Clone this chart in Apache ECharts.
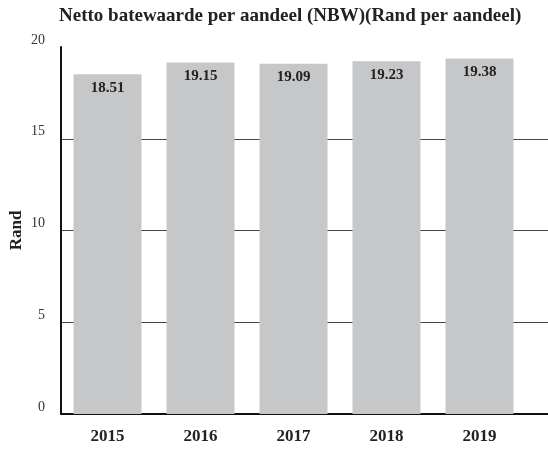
<!DOCTYPE html>
<html>
<head>
<meta charset="utf-8">
<script src="https://cdn.jsdelivr.net/npm/echarts@6/dist/echarts.min.js"></script>
<style>
  html, body { margin: 0; padding: 0; background: #fff; }
  #main { width: 548px; height: 449px; }
</style>
</head>
<body>
<div id="main"></div>
<script>
var years = ["2015", "2016", "2017", "2018", "2019"];
var nbw = [18.51, 19.15, 19.09, 19.23, 19.38];
var yTicks = [0, 5, 10, 15, 20];

var serif = "'Liberation Serif', 'DejaVu Serif', serif";

var chart = echarts.init(document.getElementById("main"));
var option = {
    animation: false,
    title: {
        text: "Netto batewaarde per aandeel (NBW)(Rand per aandeel)",
        left: 54,
        top: 2,
        textStyle: {
            fontFamily: serif,
            fontSize: 19,
            fontWeight: "bold",
            color: "#222"
        }
    },
    grid: [
        // full width grid: axis lines + gridlines
        { left: 61, right: 0, top: 47, bottom: 35, outerBoundsMode: "none" },
        // bars
        { left: 61, right: 22, top: 47, bottom: 35, outerBoundsMode: "none" }
    ],
    xAxis: [
        {
            gridIndex: 0,
            type: "value",
            min: 0,
            max: 1,
            axisLine: { show: true, lineStyle: { color: "#111", width: 2 } },
            axisTick: { show: false },
            axisLabel: { show: false },
            splitLine: { show: false }
        },
        {
            gridIndex: 1,
            type: "category",
            data: years,
            axisLine: { show: false },
            axisTick: { show: false },
            axisLabel: {
                margin: 14,
                fontFamily: serif,
                fontSize: 17,
                fontWeight: "bold",
                color: "#222"
            }
        }
    ],
    yAxis: [
        {
            gridIndex: 0,
            type: "value",
            min: yTicks[0],
            max: yTicks[yTicks.length - 1],
            interval: 5,
            name: "Rand",
            nameLocation: "middle",
            nameGap: 36,
            nameMoveOverlap: false,
            nameTextStyle: {
                fontFamily: serif,
                fontSize: 17,
                fontWeight: "bold",
                color: "#222"
            },
            axisLine: { show: true, lineStyle: { color: "#111", width: 2 } },
            axisTick: { show: false },
            axisLabel: {
                margin: 16,
                verticalAlign: "bottom",
                fontFamily: serif,
                fontSize: 14,
                color: "#333"
            },
            splitLine: {
                show: true,
                showMaxLine: false,
                lineStyle: { color: "#444", width: 1 }
            }
        },
        {
            gridIndex: 1,
            type: "value",
            min: yTicks[0],
            max: yTicks[yTicks.length - 1],
            interval: 5,
            show: false,
            splitLine: { show: false }
        }
    ],
    series: [
        {
            type: "bar",
            xAxisIndex: 1,
            yAxisIndex: 1,
            data: nbw,
            barWidth: 68,
            itemStyle: { color: "#c6c7c9" },
            label: {
                show: true,
                position: "insideTop",
                distance: 6,
                fontFamily: serif,
                fontSize: 15,
                fontWeight: "bold",
                color: "#222",
                formatter: function (p) { return p.value.toFixed(2); }
            }
        }
    ]
};
chart.setOption(option);
</script>
</body>
</html>
